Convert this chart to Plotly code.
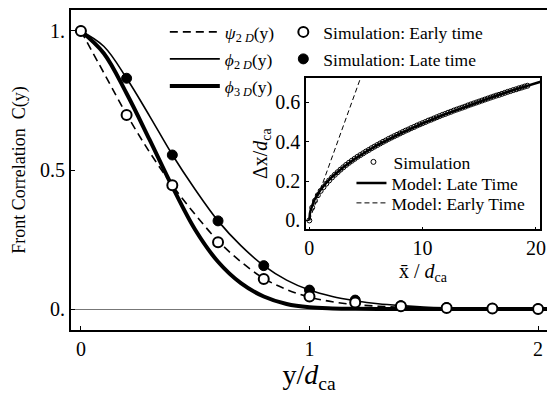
import plotly.graph_objects as go

# ---------------- main panel data ----------------
y_grid = [0.0, 0.1, 0.2, 0.3, 0.4, 0.5, 0.6, 0.7, 0.8, 0.9, 1.0,
          1.1, 1.2, 1.3, 1.4, 1.5, 1.6, 1.7, 1.8, 1.9, 2.0, 2.05]
psi_2d = [1.0, 0.85, 0.70, 0.565, 0.445, 0.34, 0.245, 0.17, 0.11, 0.07, 0.043,
          0.026, 0.016, 0.010, 0.006, 0.004, 0.002, 0.001, 0.0005, 0.0002, 0.0, 0.0]
phi_2d = [1.0, 0.945, 0.83, 0.695, 0.555, 0.43, 0.317, 0.228, 0.156, 0.104, 0.068,
          0.045, 0.030, 0.019, 0.012, 0.007, 0.004, 0.002, 0.001, 0.0005, 0.0, 0.0]
phi_3d = [1.0, 0.92, 0.775, 0.61, 0.44, 0.285, 0.17, 0.093, 0.045, 0.018, 0.006,
          0.002, 0.0005, 0.0, 0.0, 0.0, 0.0, 0.0, 0.0, 0.0, 0.0, 0.0]

sim_y = [0.0, 0.2, 0.4, 0.6, 0.8, 1.0, 1.2, 1.4, 1.6, 1.8, 2.0]
sim_early = [1.0, 0.698, 0.445, 0.24, 0.108, 0.045, 0.023, 0.010, 0.004, 0.002, 0.0]
sim_late = [1.0, 0.83, 0.554, 0.317, 0.156, 0.068, 0.032, 0.012, 0.005, 0.002, 0.001]

main_xticks = [0, 1, 2]
main_xticklabels = ["0", "1", "2"]
main_yticks = [0, 0.5, 1]
main_yticklabels = ["0.", "0.5", "1."]

# ---------------- inset data ----------------
inset_sim_x = [0.0, 0.25, 0.5, 0.75, 1.0, 1.25, 1.5, 1.75, 2.0, 2.25, 2.5, 2.75,
               3.0, 3.25, 3.5, 3.75, 4.0, 4.25, 4.5, 4.75, 5.0, 5.25, 5.5, 5.75,
               6.0, 6.25, 6.5, 6.75, 7.0, 7.25, 7.5, 7.75, 8.0, 8.25, 8.5, 8.75,
               9.0, 9.25, 9.5, 9.75, 10.0, 10.25, 10.5, 10.75, 11.0, 11.25, 11.5, 11.75,
               12.0, 12.25, 12.5, 12.75, 13.0, 13.25, 13.5, 13.75, 14.0, 14.25, 14.5, 14.75,
               15.0, 15.25, 15.5, 15.75, 16.0, 16.25, 16.5, 16.75, 17.0, 17.25, 17.5, 17.75,
               18.0, 18.25, 18.5, 18.75, 19.0, 19.25]
inset_sim_y = [0.0, 0.065, 0.100, 0.128, 0.150, 0.169, 0.187, 0.203, 0.218, 0.232, 0.245, 0.258,
               0.270, 0.282, 0.293, 0.303, 0.313, 0.323, 0.332, 0.341, 0.350, 0.358, 0.367, 0.375,
               0.383, 0.391, 0.399, 0.406, 0.414, 0.421, 0.428, 0.435, 0.442, 0.449, 0.456, 0.462,
               0.469, 0.475, 0.482, 0.488, 0.494, 0.500, 0.507, 0.512, 0.518, 0.524, 0.530, 0.536,
               0.541, 0.547, 0.552, 0.558, 0.563, 0.568, 0.573, 0.578, 0.584, 0.589, 0.594, 0.599,
               0.604, 0.609, 0.614, 0.619, 0.624, 0.629, 0.634, 0.638, 0.643, 0.648, 0.653, 0.657,
               0.662, 0.666, 0.671, 0.675, 0.680, 0.684]
late_x = [0.0, 0.01, 0.02, 0.05, 0.1, 0.2, 0.4, 0.7, 1.0, 1.5, 2.0, 3.0, 4.0, 5.0,
          6.0, 8.0, 10.0, 12.0, 14.0, 16.0, 18.0, 20.0, 20.5]
late_y = [0.0, 0.0156, 0.022, 0.0349, 0.0493, 0.0698, 0.0987, 0.1305, 0.156, 0.191,
          0.2206, 0.270, 0.312, 0.349, 0.382, 0.441, 0.493, 0.540, 0.584, 0.624,
          0.662, 0.698, 0.706]
early_x = [0.0, 4.6]
early_y = [0.0, 0.736]

inset_xticks = [0, 10, 20]
inset_yticks = [0, 0.2, 0.4, 0.6]
inset_yticklabels = ["0.", "0.2", "0.4", "0.6"]

FONT = "Liberation Serif"
W, H = 553, 394
ML, MR, MT, MB = 71, 0, 10, 64
PW, PH = W - ML - MR, H - MT - MB


def px(x):
    return (x - ML) / PW


def py(y):
    return (H - MB - y) / PH


def leg(x, y, size, itemwidth=30):
    return dict(x=px(x), y=py(y), xanchor="left", yanchor="middle", bgcolor="rgba(0,0,0,0)",
                borderwidth=0, font=dict(family=FONT, size=size, color="black"), itemwidth=itemwidth)


fig = go.Figure()

# main curves
fig.add_trace(go.Scatter(x=y_grid, y=psi_2d, mode="lines",
                         line=dict(color="black", width=1.6, dash="8px,5px", shape="spline"),
                         name="<i>ψ</i><sub>2 <i>D</i></sub>(y)", legend="legend"))
fig.add_trace(go.Scatter(x=y_grid, y=phi_2d, mode="lines",
                         line=dict(color="black", width=1.6, shape="spline"),
                         name="<i>ϕ</i><sub>2 <i>D</i></sub>(y)", legend="legend2"))
fig.add_trace(go.Scatter(x=y_grid, y=phi_3d, mode="lines",
                         line=dict(color="black", width=4, shape="spline"),
                         name="<i>ϕ</i><sub>3 <i>D</i></sub>(y)", legend="legend3"))
fig.add_trace(go.Scatter(x=sim_y, y=sim_late, mode="markers",
                         marker=dict(symbol="circle", size=10, color="black", line=dict(color="black", width=1)),
                         name="Simulation: Late time", legend="legend5"))
fig.add_trace(go.Scatter(x=sim_y, y=sim_early, mode="markers",
                         marker=dict(symbol="circle", size=10, color="white", line=dict(color="black", width=2)),
                         name="Simulation: Early time", legend="legend4"))

# inset
fig.add_trace(go.Scatter(x=inset_sim_x, y=inset_sim_y, mode="markers", xaxis="x2", yaxis="y2",
                         marker=dict(symbol="circle-open", size=5, color="black", line=dict(width=1)),
                         name="Simulation", legend="legend6"))
fig.add_trace(go.Scatter(x=late_x, y=late_y, mode="lines", xaxis="x2", yaxis="y2",
                         line=dict(color="black", width=2.5),
                         name="Model: Late Time", legend="legend7"))
fig.add_trace(go.Scatter(x=early_x, y=early_y, mode="lines", xaxis="x2", yaxis="y2",
                         line=dict(color="black", width=1, dash="5px,3px"),
                         name="Model: Early Time", legend="legend8"))

axis_common = dict(showgrid=False, linecolor="black", ticks="inside", tickcolor="black",
                   tickfont=dict(family=FONT, size=20, color="black"))

fig.update_layout(
    width=W, height=H,
    margin=dict(l=ML, r=MR, t=MT, b=MB, pad=0),
    paper_bgcolor="white", plot_bgcolor="white",
    font=dict(family=FONT, color="black"),
    xaxis=dict(axis_common, range=[-0.0432, 2.039], linewidth=2, mirror=True,
               tickvals=main_xticks, ticktext=main_xticklabels, ticklen=4, tickwidth=1,
               zeroline=False,
               title=dict(text="y/<i>d</i><sub>ca</sub>", font=dict(family=FONT, size=28), standoff=12)),
    yaxis=dict(axis_common, range=[-0.0755, 1.0755], linewidth=2, mirror=False,
               tickvals=main_yticks, ticktext=main_yticklabels, ticklen=4, tickwidth=1,
               zeroline=True, zerolinecolor="#777777", zerolinewidth=1,
               title=dict(text="Front Correlation  C(y)", font=dict(family=FONT, size=18), standoff=10)),
    xaxis2=dict(axis_common, domain=[px(309), px(546)], anchor="y2", range=[-0.29, 20.37],
                linewidth=1.5, mirror=True, tickvals=inset_xticks, ticklen=3, zeroline=False,
                title=dict(text="x̄ / <i>d</i><sub>ca</sub>", font=dict(family=FONT, size=20), standoff=6)),
    yaxis2=dict(axis_common, domain=[py(229.3), py(78)], anchor="x2", range=[-0.045, 0.7234],
                linewidth=1.5, mirror=True, tickvals=inset_yticks, ticktext=inset_yticklabels,
                ticklen=3, zeroline=False,
                title=dict(text="Δx/<i>d</i><sub>ca</sub>", font=dict(family=FONT, size=20), standoff=2)),
    legend=leg(166, 32, 17.5, 50),
    legend2=leg(166, 59, 17.5, 50),
    legend3=leg(166, 86, 17.5, 50),
    legend4=leg(286, 32, 17.5),
    legend5=leg(286, 59, 17.5),
    legend6=leg(357, 162, 17.5),
    legend7=leg(355, 183, 17.5),
    legend8=leg(355, 203, 17.5),
    showlegend=True,
)

fig.write_html("out.html")
